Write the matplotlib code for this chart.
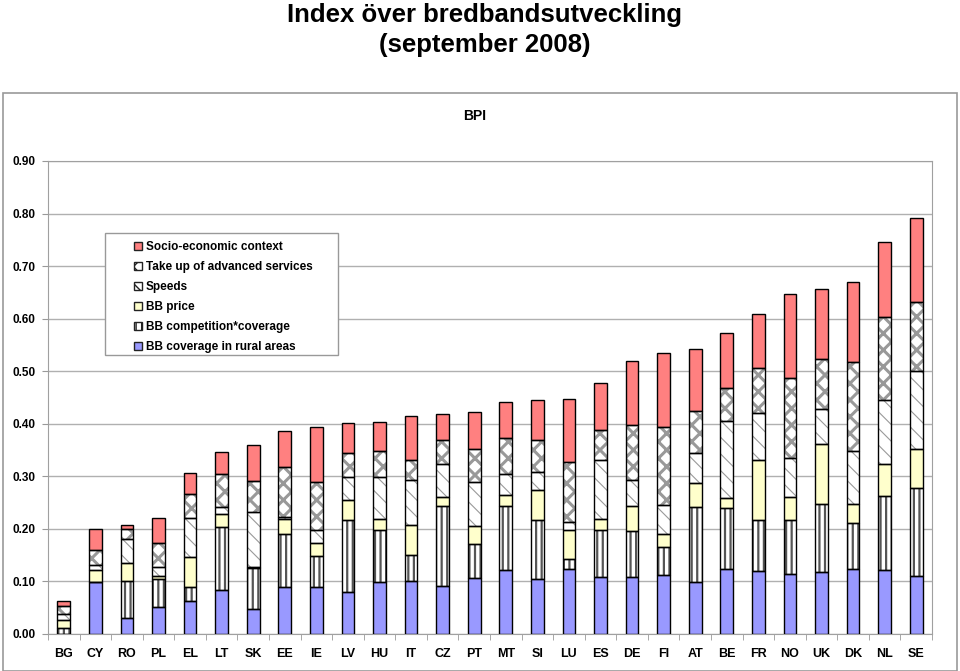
import matplotlib
matplotlib.use("Agg")
import matplotlib.pyplot as plt
import matplotlib.patches as patches
from matplotlib import font_manager
import numpy as np

countries = ["BG", "CY", "RO", "PL", "EL", "LT", "SK", "EE", "IE", "LV", "HU", "IT", "CZ", "PT",
             "MT", "SI", "LU", "ES", "DE", "FI", "AT", "BE", "FR", "NO", "UK", "DK", "NL", "SE"]

rural = [0.000, 0.098, 0.030, 0.051, 0.062, 0.083, 0.048, 0.089, 0.089, 0.080, 0.098, 0.100, 0.092, 0.106,
         0.121, 0.105, 0.124, 0.108, 0.108, 0.112, 0.099, 0.124, 0.119, 0.115, 0.118, 0.124, 0.122, 0.111]
competition = [0.011, 0.000, 0.071, 0.054, 0.028, 0.121, 0.077, 0.102, 0.060, 0.136, 0.099, 0.050, 0.152, 0.066,
               0.122, 0.111, 0.019, 0.089, 0.088, 0.054, 0.142, 0.116, 0.097, 0.102, 0.129, 0.087, 0.140, 0.166]
price = [0.016, 0.023, 0.034, 0.005, 0.057, 0.025, 0.002, 0.028, 0.024, 0.039, 0.022, 0.058, 0.017, 0.033,
         0.022, 0.058, 0.055, 0.022, 0.048, 0.024, 0.046, 0.018, 0.115, 0.043, 0.115, 0.036, 0.062, 0.075]
speeds = [0.012, 0.010, 0.046, 0.017, 0.073, 0.012, 0.105, 0.003, 0.024, 0.043, 0.079, 0.085, 0.063, 0.084,
          0.039, 0.034, 0.016, 0.113, 0.049, 0.056, 0.057, 0.147, 0.090, 0.074, 0.067, 0.101, 0.121, 0.148]
takeup = [0.015, 0.029, 0.018, 0.046, 0.047, 0.064, 0.060, 0.095, 0.092, 0.046, 0.050, 0.038, 0.046, 0.063,
          0.068, 0.061, 0.114, 0.057, 0.105, 0.148, 0.081, 0.063, 0.086, 0.153, 0.095, 0.169, 0.158, 0.132]
socio = [0.008, 0.039, 0.009, 0.047, 0.039, 0.041, 0.067, 0.070, 0.105, 0.058, 0.055, 0.084, 0.048, 0.071,
         0.070, 0.077, 0.120, 0.089, 0.122, 0.141, 0.117, 0.105, 0.102, 0.159, 0.133, 0.152, 0.142, 0.160]

# name, values, face colour, hatch, hatch colour, hatch width
series = [
    ("BB coverage in rural areas", rural, "#9999ff", None, "#9999ff", 1.0),
    ("BB competition*coverage", competition, "white", "|||", "#555555", 1.6),
    ("BB price", price, "#ffffcc", None, "#ffffcc", 1.0),
    ("Speeds", speeds, "white", "\\\\", "#9a9a9a", 0.8),
    ("Take up of advanced services", takeup, "white", "xx", "#999999", 2.2),
    ("Socio-economic context", socio, "#ff8080", None, "#ff8080", 1.0),
]

plt.rcParams["font.family"] = ["Liberation Sans", "DejaVu Sans"]
plt.rcParams["font.weight"] = "bold"

installed = {f.name for f in font_manager.fontManager.ttflist}
if "Liberation Sans Narrow" in installed:
    title_font, title_size = ["Liberation Sans Narrow", "DejaVu Sans"], 22
else:
    title_font, title_size = ["Liberation Sans", "DejaVu Sans"], 18.5

fig = plt.figure(figsize=(9.6, 6.71), dpi=100)

# chart area frame
fig.patches.append(patches.Rectangle((3 / 960, 0), 954 / 960, 578 / 671, transform=fig.transFigure,
                                     fill=False, edgecolor="#999999", linewidth=1.2))
fig.text(0.505, 1 - 15 / 671, "Index över bredbandsutveckling", ha="center", va="center",
         fontsize=title_size, fontweight="bold", family=title_font)
fig.text(0.505, 1 - 45 / 671, "(september 2008)", ha="center", va="center",
         fontsize=title_size, fontweight="bold", family=title_font)
fig.text(0.494, 1 - 116 / 671, "BPI", ha="center", va="center", fontsize=10, fontweight="bold")

ax = fig.add_axes([48 / 960, 37 / 671, 884 / 960, 473 / 671])
x = np.arange(len(countries))
width = 0.4
bottom = np.zeros(len(countries))
handles = []
for name, vals, face, hatch, hcol, hlw in series:
    vals = np.array(vals)
    with plt.rc_context({"hatch.linewidth": hlw}):
        ax.bar(x, vals, width, bottom=bottom, color=face, hatch=hatch, edgecolor=hcol, linewidth=0, zorder=2)
        handles.append(patches.Patch(facecolor=face, hatch=hatch, edgecolor="#222222", label=name))
    ax.bar(x, vals, width, bottom=bottom, fill=False, edgecolor="black", linewidth=1.0, zorder=3)
    bottom += vals

ax.set_xlim(-0.5, len(countries) - 0.5)
ax.set_ylim(0, 0.9)
ax.set_yticks(np.arange(0, 0.91, 0.1))
ax.set_yticklabels(["%.2f" % v for v in np.arange(0, 0.91, 0.1)], fontsize=8.5, fontweight="bold")
ax.set_xticks(x)
ax.set_xticklabels(countries, fontsize=9, fontweight="bold")
ax.tick_params(axis="x", length=0, pad=10)
ax.set_xticks(np.arange(-0.5, len(countries), 1), minor=True)
ax.tick_params(axis="x", which="minor", length=4, color="#999999")
ax.tick_params(axis="y", length=4, color="#999999", pad=5)
ax.grid(axis="y", color="#b0b0b0", linewidth=1, zorder=0)
ax.set_axisbelow(True)
for s in ax.spines.values():
    s.set_color("#a0a0a0")

# legend box drawn separately (wider padding than matplotlib's frame)
fig.patches.append(patches.Rectangle((105 / 960, 1 - 355 / 671), 233 / 960, 122 / 671,
                                     transform=fig.transFigure, facecolor="white",
                                     edgecolor="#999999", linewidth=1, zorder=5))
leg = fig.legend(handles=handles[::-1], loc="upper left", bbox_to_anchor=(128 / 960, 1 - 235 / 671),
                 prop={"size": 8.5, "weight": "bold"}, frameon=False, borderpad=0,
                 handlelength=0.7, handleheight=0.7, handletextpad=0.3, labelspacing=0.68)
leg.set_zorder(6)

fig.savefig("out.png", dpi=100)
